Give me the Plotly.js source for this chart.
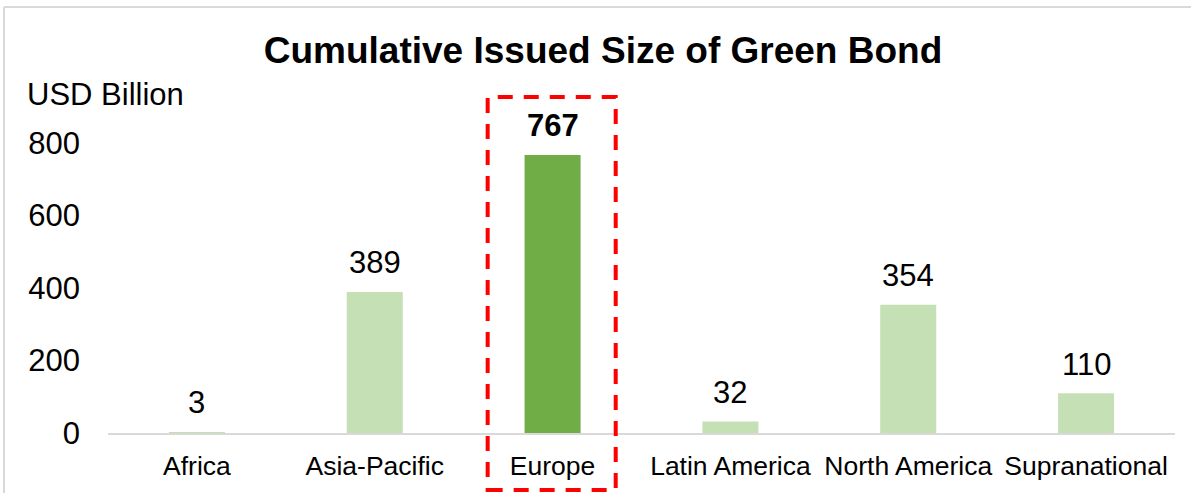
<!DOCTYPE html>
<html>
<head>
<meta charset="utf-8">
<script src="https://cdn.plot.ly/plotly-3.0.1.min.js"></script>
<style>
  html, body { margin: 0; padding: 0; background: #fff; }
  #chart { width: 1191px; height: 493px; }
</style>
</head>
<body>
<div id="chart"></div>
<script>
const categories = ["Africa", "Asia-Pacific", "Europe", "Latin America", "North America", "Supranational"];
const values = [3, 389, 767, 32, 354, 110];
const highlight = "Europe";
const yTicks = [0, 200, 400, 600, 800];

const lightGreen = "#c5e0b4";
const darkGreen = "#70ad47";
const FONT = "Liberation Sans, Arial, sans-serif";

const colors = categories.map(c => c === highlight ? darkGreen : lightGreen);

const trace = {
  type: "bar",
  x: categories,
  y: values,
  marker: { color: colors, line: { width: 0 } },
  hoverinfo: "x+y"
};

const W = 1191, H = 493;
const mL = 108, mR = 16, mT = 60, mB = 60;
const plotW = W - mL - mR, plotH = H - mT - mB;
const pxPerUnit = 290 / 800;
const yMax = plotH / pxPerUnit;

const px2paperX = px => (px - mL) / plotW;
const px2paperY = py => (H - mB - py) / plotH;

const annotations = categories.map((c, i) => ({
  x: c, y: values[i], xref: "x", yref: "y",
  text: c === highlight ? "<b>" + values[i] + "</b>" : String(values[i]),
  showarrow: false, yanchor: "middle", xanchor: "center", yshift: 29,
  font: { family: FONT, size: 31, color: "#000" }
}));
annotations.push({
  text: "USD Billion", xref: "paper", yref: "paper",
  x: px2paperX(25), y: px2paperY(95), xanchor: "left", yanchor: "middle",
  showarrow: false, font: { family: FONT, size: 31, color: "#000" }
});

const hi = categories.indexOf(highlight);
const shapes = [
  { type: "rect", xref: "x", yref: "paper",
    x0: hi - 0.365, x1: hi + 0.355, y0: px2paperY(490), y1: px2paperY(97),
    line: { color: "#ff0000", width: 4, dash: "15px,11px" }, fillcolor: "rgba(0,0,0,0)" },
  { type: "line", xref: "paper", yref: "paper",
    x0: px2paperX(4), x1: px2paperX(1200), y0: px2paperY(7), y1: px2paperY(7),
    line: { color: "#d9d9d9", width: 2 } },
  { type: "line", xref: "paper", yref: "paper",
    x0: px2paperX(4), x1: px2paperX(4), y0: px2paperY(7), y1: px2paperY(500),
    line: { color: "#d9d9d9", width: 2 } }
];

const layout = {
  width: W, height: H,
  margin: { l: mL, r: mR, t: mT, b: mB, pad: 0 },
  paper_bgcolor: "#fff", plot_bgcolor: "#fff",
  showlegend: false,
  bargap: 0.685,
  title: {
    text: "<b>Cumulative Issued Size of Green Bond</b>",
    font: { family: FONT, size: 37, color: "#000" },
    x: 603 / W, xanchor: "center", xref: "container",
    y: 1 - 50 / H, yanchor: "middle", yref: "container"
  },
  xaxis: {
    type: "category", range: [-0.5, categories.length - 0.5],
    showline: true, linecolor: "#d9d9d9", linewidth: 2,
    showgrid: false, zeroline: false, ticks: "",
    ticklabelstandoff: 8,
    tickfont: { family: FONT, size: 26.5, color: "#000" },
    fixedrange: true
  },
  yaxis: {
    range: [0, yMax], tickvals: yTicks, ticktext: yTicks.map(String),
    showline: false, showgrid: false, zeroline: false, ticks: "",
    ticklabelstandoff: 27,
    tickfont: { family: FONT, size: 31, color: "#000" },
    fixedrange: true
  },
  annotations: annotations,
  shapes: shapes
};

Plotly.newPlot("chart", [trace], layout, { displayModeBar: false, staticPlot: true });
</script>
</body>
</html>
